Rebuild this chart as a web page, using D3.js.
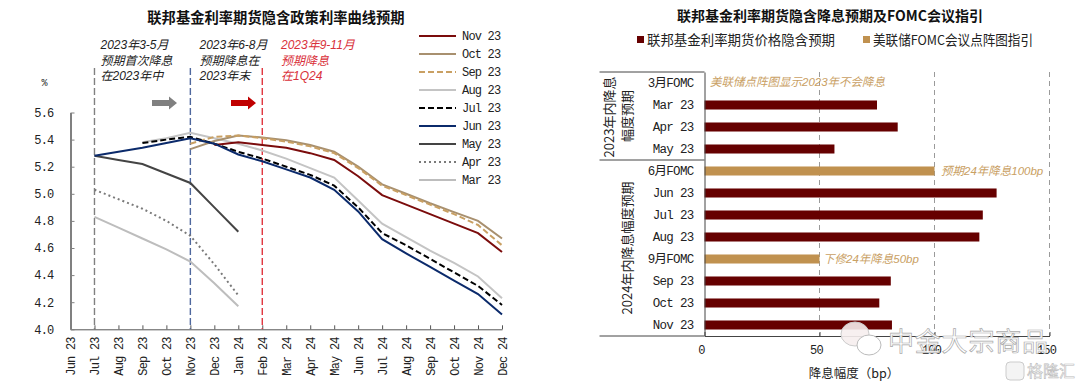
<!DOCTYPE html>
<html lang='en'>

<head>
   <meta charset='UTF-8'>
   <title>D3 - Fed funds futures</title>
   <script src='https://d3js.org/d3.v7.min.js'></script>
   <style>
      body {
         margin: 0;
         background: #fff;
      }

      svg {
         display: block;
      }

      text {
         font-family: 'Liberation Mono', 'Noto Sans CJK SC', monospace;
         fill: #222;
      }

      .cjk {
         font-family: 'Noto Sans CJK SC', sans-serif;
      }

      .title {
         font-family: 'Noto Sans CJK SC', sans-serif;
         font-weight: 700;
         font-size: 14px;
         fill: #111;
      }

      .note {
         font-family: 'Liberation Sans', 'Noto Sans CJK SC', sans-serif;
         font-style: italic;
         font-size: 11.5px;
      }
   </style>
</head>

<body>
   <div id='svg-container'></div>
   <script>
      // left chart: implied policy path by month of the curve
      const months = ['Jun 23', 'Jul 23', 'Aug 23', 'Sep 23', 'Oct 23', 'Nov 23', 'Dec 23', 'Jan 24', 'Feb 24', 'Mar 24',
         'Apr 24', 'May 24', 'Jun 24', 'Jul 24', 'Aug 24', 'Sep 24', 'Oct 24', 'Nov 24', 'Dec 24'];
      const yTicks = [4.0, 4.2, 4.4, 4.6, 4.8, 5.0, 5.2, 5.4, 5.6];

      const nov23 = [null, null, null, null, null, null, 5.36, 5.38, 5.36, 5.34, 5.30, 5.25, 5.13, 4.99, 4.92, 4.85, 4.78, 4.71, 4.57];
      const oct23 = [null, null, null, null, null, 5.33, 5.39, 5.43, 5.415, 5.395, 5.36, 5.31, 5.20, 5.07, 5.00, 4.93, 4.865, 4.80, 4.67];
      const sep23 = [null, null, null, null, null, 5.37, 5.42, 5.43, 5.41, 5.385, 5.35, 5.30, 5.19, 5.06, 4.99, 4.92, 4.85, 4.77, 4.62];
      const aug23 = [null, null, null, 5.38, 5.41, 5.45, 5.41, 5.37, 5.32, 5.26, 5.19, 5.12, 4.95, 4.78, 4.68, 4.58, 4.49, 4.39, 4.23];
      const jul23 = [null, null, null, 5.375, 5.40, 5.42, 5.37, 5.31, 5.26, 5.20, 5.14, 5.06, 4.90, 4.71, 4.62, 4.52, 4.42, 4.32, 4.18];
      const jun23 = [null, 5.28, 5.31, 5.34, 5.375, 5.41, 5.37, 5.29, 5.24, 5.18, 5.12, 5.03, 4.87, 4.665, 4.56, 4.46, 4.36, 4.26, 4.11];
      const may23 = [null, 5.28, 5.25, 5.22, 5.15, 5.08, 4.90, 4.72];
      const apr23 = [null, 5.03, 4.96, 4.89, 4.80, 4.69, 4.48, 4.25];
      const mar23 = [null, 4.83, 4.75, 4.67, 4.59, 4.50, 4.34, 4.17];

      const seriesNames = ['Nov 23', 'Oct 23', 'Sep 23', 'Aug 23', 'Jul 23', 'Jun 23', 'May 23', 'Apr 23', 'Mar 23'];
      const seriesValues = [nov23, oct23, sep23, aug23, jul23, jun23, may23, apr23, mar23];
      const seriesColors = ['#7b0c0c', '#a8906f', '#c9a063', '#c4c4c4', '#000000', '#0b2a6b', '#444444', '#7a7a7a', '#bdbdbd'];
      const seriesDash = [null, null, '6 3', null, '6 3', null, null, '2 3', null];
      // back to front, the order they overlap in the picture
      const drawOrder = [8, 7, 6, 3, 0, 1, 2, 4, 5];

      // right chart
      const rows = ['3月FOMC', 'Mar 23', 'Apr 23', 'May 23', '6月FOMC', 'Jun 23', 'Jul 23', 'Aug 23', '9月FOMC', 'Sep 23', 'Oct 23', 'Nov 23'];
      const rowValues = [0, 75, 84, 56.5, 100, 127, 121, 119.5, 50, 81, 76, 81.5];
      const bpTicks = [0, 50, 100, 150];

      const monoStyle = sel => sel
         .style('font-size', '12px').style('letter-spacing', '-0.8px')
         .style('font-family', "'Liberation Mono', 'Noto Sans CJK SC'").style('fill', '#222');

      const canvas = d3.select('#svg-container').append('svg').attr('width', 1080).attr('height', 388);

      /* ---------- left chart ---------- */
      const x = d3.scalePoint().domain(months).range([70.5, 502]);
      const y = d3.scaleLinear().domain([4.0, 5.6]).range([329.3, 112.5]);

      canvas.append('text').attr('class', 'title').attr('x', 276).attr('y', 23).attr('text-anchor', 'middle')
         .style('font-size', '14.3px')
         .text('联邦基金利率期货隐含政策利率曲线预期');
      canvas.append('text').attr('x', 44.5).attr('y', 86).attr('text-anchor', 'middle').style('font-size', '10px').text('%');

      const bottomAxis = d3.axisBottom(x).tickSize(-4).tickSizeOuter(0);
      const xAxis = canvas.append('g').attr('transform', 'translate(0, 329.3)').call(bottomAxis);
      xAxis.select('.domain').attr('stroke', '#555').attr('stroke-width', 1);
      xAxis.selectAll('.tick line').attr('stroke', '#555');
      xAxis.selectAll('.tick text')
         .attr('transform', 'rotate(-90)')
         .attr('x', -8).attr('y', 0).attr('dy', '0.35em')
         .attr('text-anchor', 'end')
         .call(monoStyle);

      const leftAxis = d3.axisRight(y).tickValues(yTicks).tickFormat(d3.format('.1f')).tickSize(4).tickSizeOuter(0);
      const yAxis = canvas.append('g').attr('transform', 'translate(70.5, 0)').call(leftAxis);
      yAxis.select('.domain').attr('stroke', '#808080').attr('stroke-width', 2);
      yAxis.selectAll('.tick line').attr('stroke', '#808080');
      yAxis.selectAll('.tick text')
         .attr('x', -17).attr('text-anchor', 'end')
         .call(monoStyle);

      // period markers
      const markers = [['Jul 23', '#808080'], ['Nov 23', '#4f689e'], ['Feb 24', '#e0363f']];
      canvas.append('g').selectAll('line').data(markers).join('line')
         .attr('x1', d => x(d[0])).attr('x2', d => x(d[0]))
         .attr('y1', 68).attr('y2', 329)
         .attr('stroke', d => d[1]).attr('stroke-width', 1.4).attr('stroke-dasharray', '7 3');

      const line = d3.line()
         .defined(d => d != null)
         .x((d, i) => x(months[i]))
         .y(d => y(d));

      canvas.append('g').selectAll('path').data(drawOrder).join('path')
         .attr('d', i => line(seriesValues[i]))
         .attr('fill', 'none')
         .attr('stroke', i => seriesColors[i])
         .attr('stroke-width', 2)
         .attr('stroke-dasharray', i => seriesDash[i]);

      // legend
      const legend = canvas.append('g').selectAll('g').data(seriesNames).join('g')
         .attr('transform', (d, i) => `translate(419, ${36 + i * 18})`);
      legend.append('line').attr('x1', 0).attr('x2', 37)
         .attr('stroke', (d, i) => seriesColors[i])
         .attr('stroke-width', 2)
         .attr('stroke-dasharray', (d, i) => seriesDash[i]);
      legend.append('text').attr('x', 43).attr('dy', '0.35em')
         .call(monoStyle).text(d => d);

      // notes
      const notes = [
         [100.5, '#222', ['2023年3-5月', '预期首次降息', '在2023年中']],
         [199.5, '#222', ['2023年6-8月', '预期降息在', '2023年末']],
         [281, '#d9303a', ['2023年9-11月', '预期降息', '在1Q24']]
      ];
      notes.forEach(n => {
         n[2].forEach((t, i) => {
            canvas.append('text').attr('class', 'note').attr('x', n[0]).attr('y', 49 + i * 15.5)
               .style('fill', n[1]).style('font-size', '12px').text(t);
         });
      });

      const arrow = (x0, color) => {
         canvas.append('path')
            .attr('d', `M${x0},100 h17 v-3.5 l8,6.5 l-8,6.5 v-3.5 h-17 z`)
            .attr('fill', color);
      };
      arrow(152, '#808080');
      arrow(231, '#c00000');

      /* ---------- right chart ---------- */
      const bx = d3.scaleLinear().domain([0, 150]).range([704.5, 1049.5]);
      const by = d3.scaleBand().domain(rows).range([72, 336]).paddingInner(0.59).paddingOuter(0.295);

      canvas.append('text').attr('class', 'title').attr('x', 830).attr('y', 21).attr('text-anchor', 'middle')
         .text('联邦基金利率期货隐含降息预期及FOMC会议指引');

      // legend
      const legendItems = [[637, '#660000', '联邦基金利率期货价格隐含预期', 188], [863, '#c0914f', '美联储FOMC会议点阵图指引', 160]];
      legendItems.forEach(d => {
         canvas.append('rect').attr('x', d[0]).attr('y', 36).attr('width', 7).attr('height', 7).attr('fill', d[1]);
         canvas.append('text').attr('class', 'cjk').attr('x', d[0] + 10).attr('y', 44.5)
            .attr('textLength', d[3]).attr('lengthAdjust', 'spacingAndGlyphs')
            .style('font-size', '13.4px').text(d[2]);
      });

      // grid
      canvas.append('g').selectAll('line').data(bpTicks.slice(1)).join('line')
         .attr('x1', d => bx(d)).attr('x2', d => bx(d))
         .attr('y1', 72).attr('y2', 336)
         .attr('stroke', '#9a9a9a').attr('stroke-dasharray', '5 4');

      canvas.append('g').selectAll('rect').data(rows).join('rect')
         .attr('x', bx(0))
         .attr('y', d => by(d))
         .attr('width', (d, i) => bx(rowValues[i]) - bx(0))
         .attr('height', by.bandwidth())
         .attr('fill', d => (d.includes('FOMC') ? '#c0914f' : '#660000'));

      const bpAxis = d3.axisBottom(bx).tickValues(bpTicks).tickSize(-4).tickSizeOuter(0);
      const bxAxis = canvas.append('g').attr('transform', 'translate(0, 336)').call(bpAxis);
      bxAxis.select('.domain').attr('stroke', '#444');
      bxAxis.selectAll('.tick line').attr('stroke', '#444');
      bxAxis.selectAll('.tick text').attr('x', -3.5).attr('y', 9).attr('dy', '0.71em')
         .call(monoStyle);

      const rowAxis = d3.axisLeft(by).tickSize(0).tickSizeOuter(0);
      const byAxis = canvas.append('g').attr('transform', 'translate(704.5, 0)').call(rowAxis);
      byAxis.select('.domain').attr('stroke', '#444');
      byAxis.selectAll('.tick text').attr('x', -11)
         .call(monoStyle)
         .style('font-size', '12.5px').style('letter-spacing', '-0.7px');

      // group brackets
      const rules = [[72, 704.5], [160, 704.5], [336, 704.5]];
      canvas.append('g').selectAll('line').data(rules).join('line')
         .attr('x1', 599.5).attr('x2', d => d[1]).attr('y1', d => d[0]).attr('y2', d => d[0]).attr('stroke', '#444');

      const groupLabels = [[609, 117, '2023年内降息'], [627, 116, '幅度预期'], [627, 248, '2024年内降息幅度预期']];
      groupLabels.forEach(d => {
         canvas.append('text').attr('class', 'cjk')
            .attr('transform', `translate(${d[0]}, ${d[1]}) rotate(-90)`)
            .attr('text-anchor', 'middle').attr('dy', '0.35em')
            .style('font-size', '13px').text(d[2]);
      });

      const barNotes = [[710, 86, '美联储点阵图显示2023年不会降息'], [941, 175, '预期24年降息100bp'], [823, 263, '下修24年降息50bp']];
      barNotes.forEach(d => {
         canvas.append('text').attr('class', 'note').attr('x', d[0]).attr('y', d[1])
            .style('fill', '#c9a063').text(d[2]);
      });

      canvas.append('text').attr('class', 'cjk').attr('x', 854).attr('y', 378).attr('text-anchor', 'middle')
         .style('font-size', '12.5px').text('降息幅度（bp）');

      /* ---------- watermarks ---------- */
      const wm = canvas.append('g');
      wm.append('ellipse').attr('cx', 855).attr('cy', 334).attr('rx', 14).attr('ry', 12)
         .attr('fill', '#f6eeee').attr('fill-opacity', 0.9).attr('stroke', '#ccc');
      wm.append('ellipse').attr('cx', 869).attr('cy', 345).attr('rx', 12).attr('ry', 10)
         .attr('fill', '#fff').attr('stroke', '#bbb');
      wm.append('text').attr('class', 'cjk').attr('x', 888).attr('y', 351)
         .attr('textLength', 160)
         .style('font-size', '26px').style('fill', '#fff').style('stroke', '#aaa').style('stroke-width', 0.7)
         .text('中金大宗商品');
      wm.append('rect').attr('x', 1006).attr('y', 362).attr('width', 18).attr('height', 18).attr('rx', 4)
         .attr('fill', '#f4f4f4').attr('stroke', '#ccc');
      wm.append('text').attr('class', 'cjk').attr('x', 1027).attr('y', 377)
         .style('font-size', '16px').style('fill', '#fff').style('stroke', '#bbb').style('stroke-width', 0.6)
         .text('格隆汇');
   </script>
</body>

</html>
